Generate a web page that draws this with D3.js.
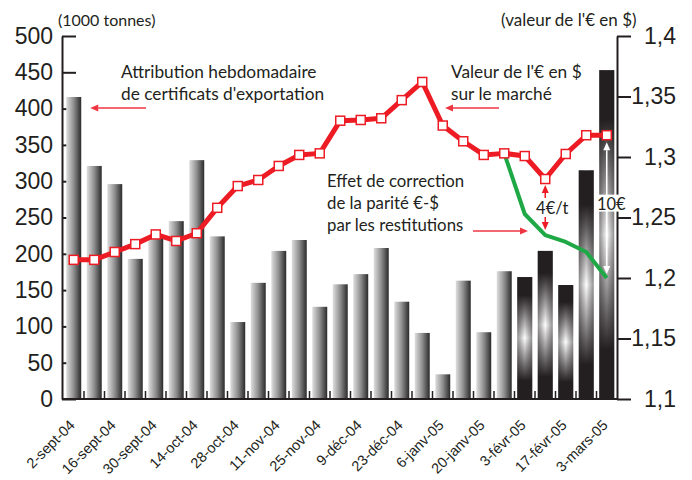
<!DOCTYPE html>
<html>
<head>
<meta charset="utf-8">
<script src="https://cdn.jsdelivr.net/npm/d3@7/dist/d3.min.js"></script>
<style>
    body { margin: 0; background: #fff; }
    svg { font-family: Lato, "Liberation Sans", sans-serif; }
    text { fill: #231f20; }
</style>
</head>
<body>
<div id="chart"></div>
<script>
// weekly data, 2 Sept 2004 to 3 March 2005
const weeks = ['2-sept-04', '9-sept-04', '16-sept-04', '23-sept-04', '30-sept-04', '7-oct-04', '14-oct-04',
    '21-oct-04', '28-oct-04', '4-nov-04', '11-nov-04', '18-nov-04', '25-nov-04', '2-déc-04', '9-déc-04',
    '16-déc-04', '23-déc-04', '30-déc-04', '6-janv-05', '13-janv-05', '20-janv-05', '27-janv-05',
    '3-févr-05', '10-févr-05', '17-févr-05', '24-févr-05', '3-mars-05'];
const weekLabels = ['2-sept-04', '16-sept-04', '30-sept-04', '14-oct-04', '28-oct-04', '11-nov-04', '25-nov-04',
    '9-déc-04', '23-déc-04', '6-janv-05', '20-janv-05', '3-févr-05', '17-févr-05', '3-mars-05'];

// export certificates allocated per week (1000 t)
const certificates = [416, 321, 296, 193, 224, 245, 329, 224, 106, 160, 204, 219, 127, 158,
    172, 208, 134, 91, 34, 163, 92, 176, 168, 204, 157, 315, 453];

// market value of the euro in dollars
const euroRate = [1.215, 1.215, 1.2215, 1.228, 1.236, 1.2306, 1.237, 1.258, 1.276, 1.281, 1.2926,
    1.3017, 1.303, 1.33, 1.3306, 1.332, 1.347, 1.362, 1.326, 1.313, 1.3017, 1.303, 1.3008,
    1.2818, 1.3025, 1.318, 1.318];

// euro value after correction by refunds
const correctedRate = [null, null, null, null, null, null, null, null, null, null, null, null, null, null,
    null, null, null, null, null, null, null, 1.303, 1.2529, 1.2355, 1.2298, 1.2215, 1.2];

// weeks shown with the dark "corrected" bar style
const correctedWeeks = ['3-févr-05', '10-févr-05', '17-févr-05', '24-févr-05', '3-mars-05'];

const leftTicks = [0, 50, 100, 150, 200, 250, 300, 350, 400, 450, 500];
const rightTicks = [1.1, 1.15, 1.2, 1.25, 1.3, 1.35, 1.4];

const width = 692;
const height = 480;
const margin = { top: 36, right: 75, bottom: 81, left: 62 };
const ink = '#231f20';
const red = '#ed1c24';
const green = '#1fa846';

const svg = d3.select('#chart')
    .append('svg')
    .attr('width', width)
    .attr('height', height);

const defs = svg.append('defs');

const barGrad = defs.append('linearGradient')
    .attr('id', 'barGrad')
    .attr('x1', 0).attr('x2', 1).attr('y1', 0).attr('y2', 0);
barGrad.append('stop').attr('offset', 0).attr('stop-color', '#dedede');
barGrad.append('stop').attr('offset', 0.5).attr('stop-color', '#8e8e8e');
barGrad.append('stop').attr('offset', 1).attr('stop-color', '#2a2a2a');

const glowGrad = defs.append('linearGradient')
    .attr('id', 'glowGrad')
    .attr('x1', 0).attr('x2', 0).attr('y1', 0).attr('y2', 1);
[[0, ink], [0.15, ink], [0.5, '#ffffff'], [0.85, ink], [1, ink]].forEach(s => {
    glowGrad.append('stop').attr('offset', s[0]).attr('stop-color', s[1]);
});

const edgeGrad = defs.append('linearGradient')
    .attr('id', 'edgeGrad')
    .attr('x1', 0).attr('x2', 1).attr('y1', 0).attr('y2', 0);
edgeGrad.append('stop').attr('offset', 0).attr('stop-color', ink).attr('stop-opacity', 0.5);
edgeGrad.append('stop').attr('offset', 0.5).attr('stop-color', ink).attr('stop-opacity', 0);
edgeGrad.append('stop').attr('offset', 1).attr('stop-color', ink).attr('stop-opacity', 0.5);

const x = d3.scaleBand()
    .domain(weeks)
    .range([margin.left + 1.5, width - margin.right])
    .paddingInner(0.27)
    .paddingOuter(0.135);

const yLeft = d3.scaleLinear()
    .domain([0, 500])
    .range([height - margin.bottom, margin.top]);

const yRight = d3.scaleLinear()
    .domain([1.1, 1.4])
    .range([height - margin.bottom, margin.top]);

const baseY = height - margin.bottom;
const cx = (d) => x(d) + x.bandwidth() / 2;

// left axis (ticks point inward)
const leftAxis = svg.append('g')
    .attr('transform', `translate(${margin.left}, 0)`)
    .call(d3.axisLeft(yLeft).tickValues(leftTicks).tickSize(-14).tickSizeOuter(0).tickPadding(9));
leftAxis.selectAll('path, line').attr('stroke', ink).attr('stroke-width', 2);
leftAxis.selectAll('text').style('font-size', '23px').attr('fill', ink);

// bars
const bars = svg.append('g');
weeks.forEach((w, i) => {
    const top = yLeft(certificates[i]);
    const special = correctedWeeks.includes(w);
    bars.append('rect')
        .attr('x', x(w))
        .attr('y', top)
        .attr('width', x.bandwidth())
        .attr('height', baseY - top)
        .attr('fill', special ? 'url(#glowGrad)' : 'url(#barGrad)');
    if (special) {
        bars.append('rect')
            .attr('x', x(w))
            .attr('y', top)
            .attr('width', x.bandwidth())
            .attr('height', baseY - top)
            .attr('fill', 'url(#edgeGrad)');
    }
});

// right axis
const rightAxis = svg.append('g')
    .attr('transform', `translate(${width - margin.right}, 0)`)
    .call(d3.axisRight(yRight).tickValues(rightTicks).tickSize(14).tickSizeOuter(0)
        .tickFormat(d => d3.format('.2~f')(d).replace('.', ',')));
rightAxis.selectAll('path, line').attr('stroke', ink).attr('stroke-width', 2);
rightAxis.selectAll('text')
    .style('font-size', '23px')
    .attr('fill', ink)
    .attr('text-anchor', 'end')
    .attr('x', 59);

// bottom axis: baseline, small ticks between bars, rotated labels
svg.append('line')
    .attr('x1', margin.left).attr('x2', width - margin.right)
    .attr('y1', baseY).attr('y2', baseY)
    .attr('stroke', ink).attr('stroke-width', 2);

const gap = x.step() - x.bandwidth();
svg.append('g').selectAll('line')
    .data(weeks.slice(0, -1))
    .enter()
    .append('line')
    .attr('x1', d => x(d) + x.bandwidth() + gap / 2)
    .attr('x2', d => x(d) + x.bandwidth() + gap / 2)
    .attr('y1', baseY)
    .attr('y2', baseY - 8)
    .attr('stroke', ink)
    .attr('stroke-width', 1.5);

const bottomAxis = svg.append('g')
    .attr('transform', `translate(0, ${baseY})`)
    .call(d3.axisBottom(x).tickValues(weekLabels).tickSize(0));
bottomAxis.select('.domain').remove();
bottomAxis.selectAll('text')
    .style('font-size', '14.5px')
    .attr('fill', ink)
    .attr('text-anchor', 'end')
    .attr('x', 0)
    .attr('y', 0)
    .attr('dy', 0)
    .attr('transform', 'translate(2, 27) rotate(-45)');

// corrected (green) line
const greenLine = d3.line()
    .defined(d => d[1] !== null)
    .x(d => cx(d[0]))
    .y(d => yRight(d[1]));
svg.append('path')
    .datum(weeks.map((w, i) => [w, correctedRate[i]]))
    .attr('d', greenLine)
    .attr('fill', 'none')
    .attr('stroke', green)
    .attr('stroke-width', 4)
    .attr('stroke-linejoin', 'round');

// market (red) line with square markers
const redLine = d3.line()
    .x(d => cx(d[0]))
    .y(d => yRight(d[1]));
const redData = weeks.map((w, i) => [w, euroRate[i]]);
svg.append('path')
    .datum(redData)
    .attr('d', redLine)
    .attr('fill', 'none')
    .attr('stroke', red)
    .attr('stroke-width', 5)
    .attr('stroke-linejoin', 'round');
svg.append('g').selectAll('rect')
    .data(redData)
    .enter()
    .append('rect')
    .attr('x', d => cx(d[0]) - 4.5)
    .attr('y', d => yRight(d[1]) - 4.5)
    .attr('width', 9)
    .attr('height', 9)
    .attr('fill', '#fff')
    .attr('stroke', red)
    .attr('stroke-width', 1.5);

// helpers for annotations
function arrow(x1, y1, x2, y2, color, w) {
    const a = Math.atan2(y2 - y1, x2 - x1);
    const len = 8, half = 3.5;
    const bx = x2 - len * Math.cos(a), by = y2 - len * Math.sin(a);
    svg.append('line')
        .attr('x1', x1).attr('y1', y1).attr('x2', bx).attr('y2', by)
        .attr('stroke', color).attr('stroke-width', w);
    svg.append('path')
        .attr('d', `M${x2},${y2}L${bx - half * Math.sin(a)},${by + half * Math.cos(a)}L${bx + half * Math.sin(a)},${by - half * Math.cos(a)}Z`)
        .attr('fill', color);
}

function label(lines, x0, y0, size) {
    const t = svg.append('text')
        .attr('x', x0)
        .attr('y', y0)
        .style('font-size', size + 'px');
    lines.forEach((l, i) => {
        t.append('tspan').attr('x', x0).attr('dy', i === 0 ? 0 : '1.3em').text(l);
    });
}

// axis titles
label(['(1000 tonnes)'], 58, 26, 16);
label(["(valeur de l'€ en $)"], 501, 26, 17);

// annotations
label(['Attribution hebdomadaire', "de certificats d'exportation"], 121, 78, 17.3);
arrow(146, 108, x(weeks[0]) + x.bandwidth() + 9, 108, '#ee3542', 1.5);

label(["Valeur de l'€ en $", 'sur le marché'], 451, 78, 17.3);
arrow(499, 108, 445, 108, '#ee3542', 1.5);

label(['Effet de correction', 'de la parité €-$', 'par les restitutions'], 327, 187, 16.8);
arrow(473, 231, 528, 231, '#ee3542', 1.5);

// 4€/t gap
const wA = '10-févr-05';
const topA = yRight(euroRate[weeks.indexOf(wA)]);
const botA = yRight(correctedRate[weeks.indexOf(wA)]);
arrow(cx(wA), topA + 19, cx(wA), topA + 6, red, 1.5);
arrow(cx(wA), botA - 18, cx(wA), botA - 5, red, 1.5);
svg.append('text')
    .attr('x', cx(wA) + 7)
    .attr('y', (topA + botA) / 2 + 7)
    .attr('text-anchor', 'middle')
    .style('font-size', '16.5px')
    .text('4€/t');

// 10€ gap
const wB = '3-mars-05';
const topB = yRight(euroRate[weeks.indexOf(wB)]);
const botB = yRight(correctedRate[weeks.indexOf(wB)]);
const midB = (topB + botB) / 2 - 3;
arrow(cx(wB), midB, cx(wB), topB + 7, '#fff', 1.5);
arrow(cx(wB), midB, cx(wB), botB - 4, '#fff', 1.5);
svg.append('rect')
    .attr('x', cx(wB) - 12)
    .attr('y', midB - 9)
    .attr('width', 33)
    .attr('height', 17)
    .attr('fill', '#fff');
svg.append('text')
    .attr('x', cx(wB) + 4.5)
    .attr('y', midB + 6)
    .attr('text-anchor', 'middle')
    .style('font-size', '16.5px')
    .text('10€');
</script>
</body>
</html>
